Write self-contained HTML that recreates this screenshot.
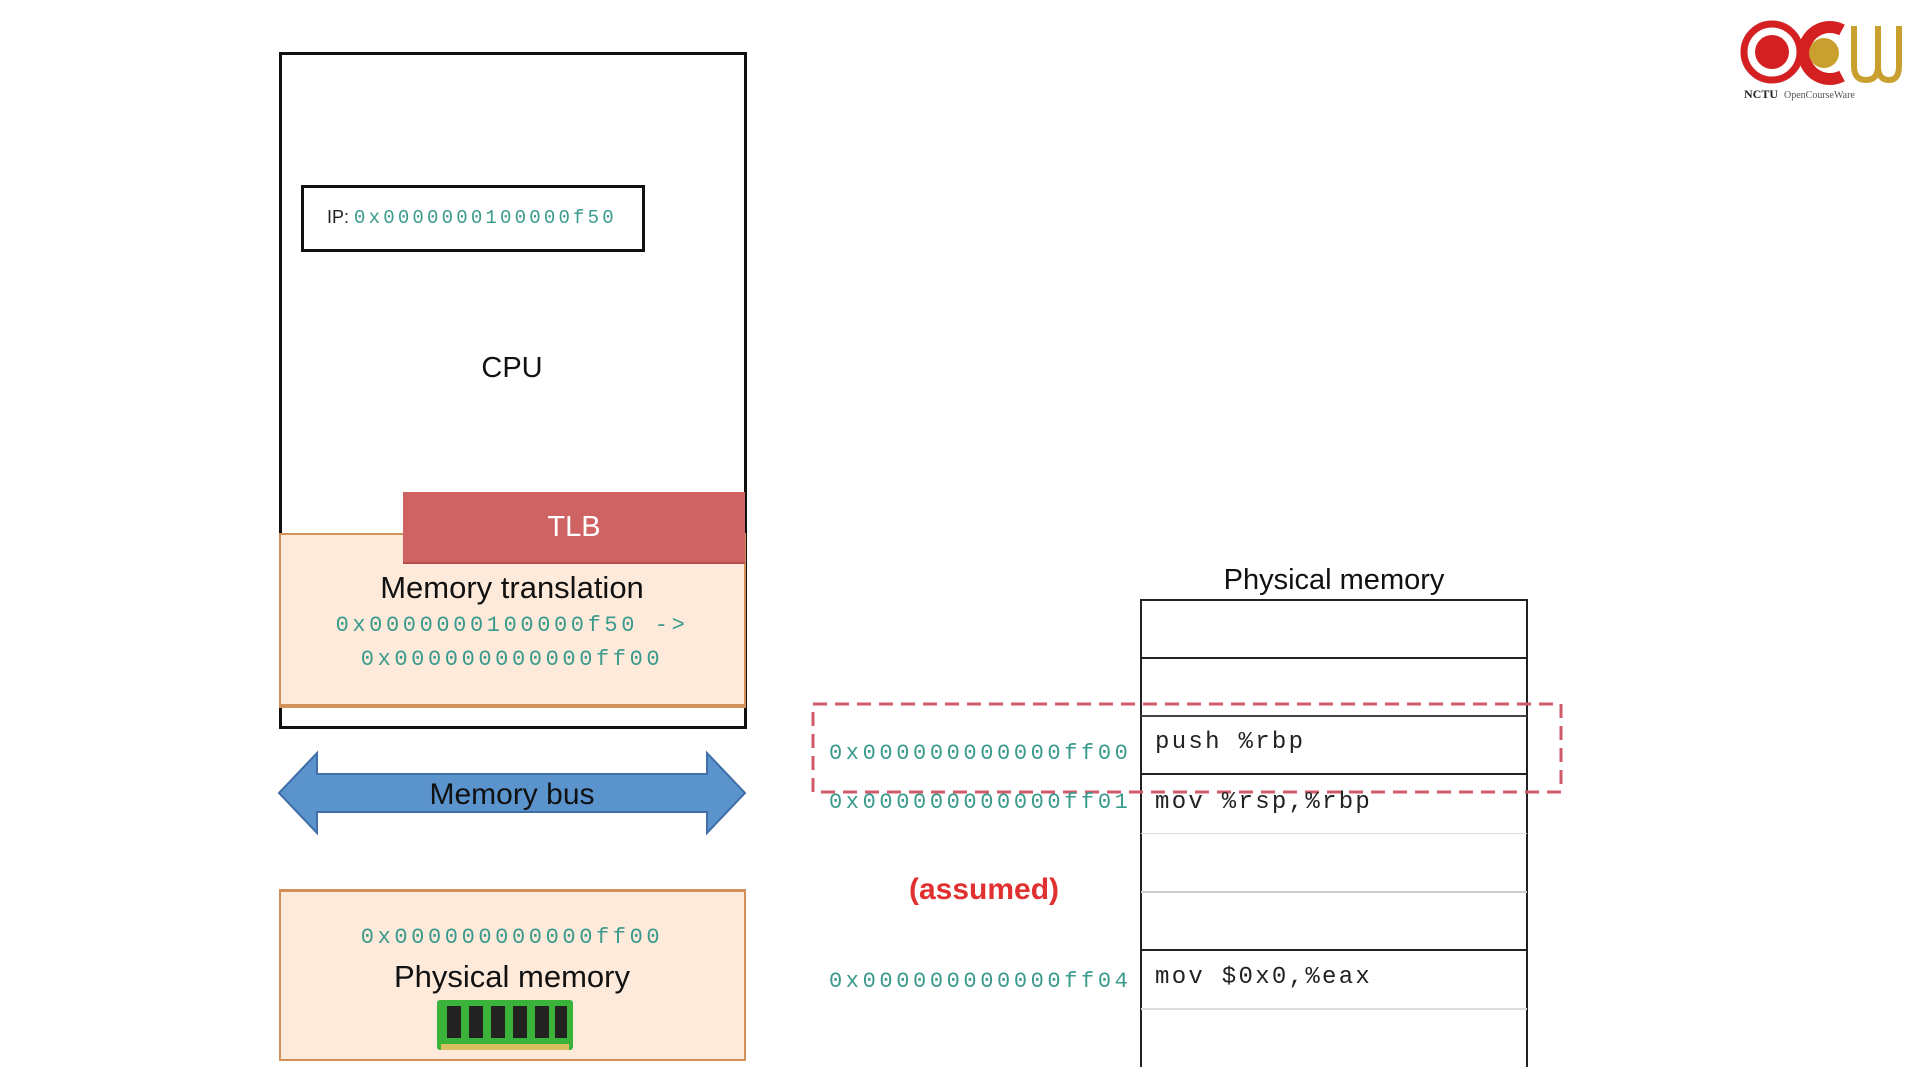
<!DOCTYPE html>
<html><head><meta charset="utf-8"><style>
body{margin:0;width:1920px;height:1080px;background:#fff;position:relative;overflow:hidden;font-family:"Liberation Sans",sans-serif}
.a{position:absolute}
.hex{font-family:"Liberation Mono",monospace;color:#3a9a8c;font-size:22px;letter-spacing:3.6px;white-space:nowrap}
.mono{font-family:"Liberation Mono",monospace;color:#222;font-size:24px;letter-spacing:2.3px;white-space:nowrap}
.c{text-align:center}
.hl{position:absolute;left:1141px;width:386px;height:0}
</style></head><body>
<div class="a" style="left:279px;top:52px;width:462px;height:671px;border:3px solid #111"></div>
<div class="a" style="left:301px;top:185px;width:338px;height:61px;border:3px solid #111;"></div>
<div class="a" style="left:327px;top:207px;font-size:18px;color:#222;white-space:nowrap">IP: <span class="hex" style="font-size:19px;letter-spacing:3.2px">0x0000000100000f50</span></div>
<div class="a c" style="left:279px;width:466px;top:352px;font-size:29px;color:#111">CPU</div>
<div class="a" style="left:279px;top:533px;width:463px;height:169px;background:#fdeadb;border:2px solid #d3915a;border-bottom-width:4px"></div>
<div class="a" style="left:403px;top:492px;width:342px;height:70px;background:#cf6262;border-bottom:2px solid #b94a4a"></div>
<div class="a c" style="left:403px;width:342px;top:511px;font-size:29px;color:#fff">TLB</div>
<div class="a c" style="left:279px;width:466px;top:570px;font-size:31px;color:#111">Memory translation</div>
<div class="a c hex" style="left:279px;width:466px;top:613px">0x0000000100000f50 -&gt;</div>
<div class="a c hex" style="left:279px;width:466px;top:647px">0x000000000000ff00</div>
<svg class="a" style="left:276px;top:750px" width="474" height="86">
<polygon points="3,43 41,3 41,24 431,24 431,3 469,43 431,83 431,62 41,62 41,83" fill="#5b93cc" stroke="#3f6fa6" stroke-width="2"/>
</svg>
<div class="a c" style="left:279px;width:466px;top:778px;font-size:30px;color:#111">Memory bus</div>
<div class="a" style="left:279px;top:889px;width:463px;height:167px;background:#fdeadb;border:2px solid #d3915a;border-top-width:3px"></div>
<div class="a c hex" style="left:279px;width:466px;top:925px">0x000000000000ff00</div>
<div class="a c" style="left:279px;width:466px;top:959px;font-size:31px;color:#111">Physical memory</div>
<svg class="a" style="left:437px;top:1000px" width="136" height="52">
<rect x="0" y="0" width="136" height="50" rx="3" fill="#3bb33b"/>
<rect x="4" y="44" width="128" height="6" fill="#d8c060"/>
<g fill="#222"><rect x="10" y="6" width="14" height="32"/><rect x="32" y="6" width="14" height="32"/><rect x="54" y="6" width="14" height="32"/><rect x="76" y="6" width="14" height="32"/><rect x="98" y="6" width="14" height="32"/><rect x="118" y="6" width="12" height="32"/></g>
</svg>
<div class="a c" style="left:1141px;width:386px;top:564px;font-size:29px;color:#111">Physical memory</div>
<div class="a" style="left:1140px;top:599px;width:0;height:468px;border-left:2px solid #222"></div>
<div class="a" style="left:1526px;top:599px;width:0;height:468px;border-left:2px solid #222"></div>
<div class="hl" style="top:599px;border-top:2px solid #222"></div>
<div class="hl" style="top:657px;border-top:2px solid #222"></div>
<div class="hl" style="top:715px;border-top:2px solid #444"></div>
<div class="hl" style="top:773px;border-top:2px solid #222"></div>
<div class="hl" style="top:833px;border-top:1px solid #ddd"></div>
<div class="hl" style="top:891px;border-top:2px solid #ccc"></div>
<div class="hl" style="top:949px;border-top:2px solid #222"></div>
<div class="hl" style="top:1008px;border-top:2px solid #ddd"></div>
<svg class="a" style="left:811px;top:702px" width="752" height="92">
<rect x="2" y="2" width="748" height="88" fill="none" stroke="#cf5a6a" stroke-width="3" stroke-dasharray="14,8"/>
</svg>
<div class="a hex" style="left:829px;top:741px">0x000000000000ff00</div>
<div class="a hex" style="left:829px;top:790px">0x000000000000ff01</div>
<div class="a hex" style="left:829px;top:969px">0x000000000000ff04</div>
<div class="a mono" style="left:1155px;top:729px">push %rbp</div>
<div class="a mono" style="left:1155px;top:789px">mov %rsp,%rbp</div>
<div class="a mono" style="left:1155px;top:964px">mov $0x0,%eax</div>
<div class="a c" style="left:884px;width:200px;top:873px;font-size:30px;font-weight:bold;color:#e03030">(assumed)</div>
<svg class="a" style="left:1740px;top:18px" width="165" height="85">
<circle cx="32" cy="34" r="28" fill="none" stroke="#d42020" stroke-width="7"/>
<circle cx="32" cy="34" r="17" fill="#d42020"/>
<path d="M102,12 A26,26 0 1 0 102,58" fill="none" stroke="#d42020" stroke-width="12"/>
<circle cx="84" cy="35" r="15" fill="#c9a030"/>
<path d="M114,8 v40 q0,14 12,14 q12,0 12,-14 v-40 M138,8 v40 q0,14 11,14 q10,0 10,-14 v-40" fill="none" stroke="#c9a030" stroke-width="6"/>
<text x="4" y="80" font-family="Liberation Serif,serif" font-size="12" font-weight="bold" fill="#222">NCTU</text>
<text x="44" y="80" font-family="Liberation Serif,serif" font-size="10" fill="#555">OpenCourseWare</text>
</svg>
</body></html>
